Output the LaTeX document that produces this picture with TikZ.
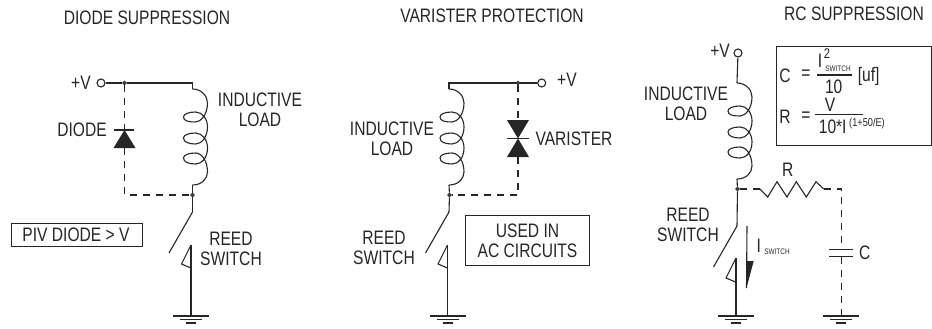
\documentclass[tikz,border=0pt]{standalone}
\usepackage{fontspec}
\setmainfont[FakeStretch=0.8]{Liberation Sans}
\usepackage{tikz}
\usepackage{tkz-euclide}
\usetikzlibrary{
    calc,
    arrows.meta
}
\tikzset{
    wire/.style={line width=1.1pt, black!85},
    dashwire/.style={wire, dash pattern=on 7pt off 6pt},
    lbl/.style={font=\fontsize{19.5}{20}\selectfont, align=center, inner sep=0pt, text=black!85},
    small/.style={font=\fontsize{8}{9}\selectfont, inner sep=0pt, text=black!85},
    mid/.style={font=\fontsize{11.5}{12}\selectfont, inner sep=0pt, text=black!85},
    termnode/.style={circle, draw=black!85, line width=1.1pt, fill=white, minimum size=8pt, inner sep=0pt},
    dotnode/.style={circle, draw=black!85, line width=0.8pt, fill=black!70, minimum size=3.8pt, inner sep=0pt},
    boxnode/.style={draw=black!85, line width=1.1pt, inner sep=0pt, anchor=north west},
    coilpart/.pic={
        \draw[wire] (0,0) .. controls (9,0) and (15,7) .. (15,14)
            .. controls (15,26) and (8,33) .. (3,33)
            .. controls (-4,33) and (-9,32) .. (-9,28)
            .. controls (-9,25) and (-4,23) .. (3,23)
            .. controls (10,23) and (15,30) .. (15,38)
            .. controls (15,48) and (9,55) .. (3,55)
            .. controls (-4,55) and (-9,53) .. (-9,49)
            .. controls (-9,46) and (-4,44) .. (3,44)
            .. controls (10,44) and (15,51) .. (15,59)
            .. controls (15,69) and (9,75) .. (3,75)
            .. controls (-4,75) and (-9,73) .. (-9,69)
            .. controls (-9,66) and (-4,64) .. (3,64)
            .. controls (10,64) and (15,73) .. (15,83)
            .. controls (15,90) and (9,96) .. (0,96);
    },
    gndpart/.pic={
        \draw[wire] (-18,0) -- (18,0);
        \draw[wire] (-11,3.6) -- (11,3.6);
        \draw[wire] (-5,7) -- (5,7);
    },
    switchpart/.pic={
        \draw[wire] (0,0) -- (-23.5,41);
        \draw[wire] (-1.5,33) -- (-11,52) -- (-1.5,56);
    }
}
\begin{document}
\begin{tikzpicture}[x=1pt,y=-1pt]
    \useasboundingbox (0,0) rectangle (932,329);
    % diode suppression
    \tkzDefPoints{192.5/83/CA,192.5/89/TA,192.5/185/BA,192.5/212/SA,191/245/KA,191/316/GA,124.5/130/DA,124.5/148/EA,124.5/195/FA}
    \node[lbl] (titleA) at (147,18) {DIODE SUPPRESSION};
    \node[lbl] (plusA) at (81,83) {+V};
    \node[termnode] (termA) at (101,83) {};
    \node[dotnode] (dotA) at (124.5,83) {};
    \node[dotnode] (juncA) at (192.5,195) {};
    \draw[wire] (termA) -- (dotA) -- (CA) -- (TA);
    \pic at (TA) {coilpart};
    \draw[wire] (BA) -- (juncA) -- (SA);
    \pic at (SA) {switchpart};
    \draw[wire] (KA) -- (GA);
    \pic at (GA) {gndpart};
    \draw[dashwire] (dotA) -- (DA);
    \draw[dashwire] (EA) -- (FA) -- (juncA);
    \draw[wire] (114,130) -- (134,130);
    \fill[black!85] (DA) -- (113.5,148) -- (135.5,148) -- cycle;
    \node[lbl] (loadA) at (260,110) {INDUCTIVE\\LOAD};
    \node[lbl] (diodeA) at (82,130) {DIODE};
    \node[lbl] (reedA) at (231,248.5) {REED\\SWITCH};
    \node[boxnode, minimum width=131pt, minimum height=23pt] (pivA) at (10.5,222.5) {};
    \node[lbl] (pivtext) at (76,235) {PIV DIODE > V};
    % varister protection
    \tkzDefPoints{449/83/CB,449/89/TB,449/185/BB,449/212/SB,447.5/245/KB,447.5/316/GB,518/120/DB,518/157/EB,518/195/FB}
    \node[lbl] (titleB) at (492,16) {VARISTER PROTECTION};
    \node[lbl] (plusB) at (567,80) {+V};
    \node[termnode] (termB) at (541.7,83) {};
    \node[dotnode] (dotB) at (518,83) {};
    \node[dotnode] (juncB) at (449.5,195) {};
    \draw[wire] (termB) -- (dotB) -- (CB) -- (TB);
    \pic at (TB) {coilpart};
    \draw[wire] (BB) -- (juncB) -- (SB);
    \pic at (SB) {switchpart};
    \draw[wire] (KB) -- (GB);
    \pic at (GB) {gndpart};
    \draw[dashwire] (dotB) -- (DB);
    \draw[dashwire] (EB) -- (FB) -- (juncB);
    \draw[wire] (507,138.5) -- (529,138.5);
    \fill[black!85] (507,120) -- (529,120) -- (518,138.5) -- cycle;
    \fill[black!85] (507,157) -- (518,138.5) -- (529,157) -- cycle;
    \node[lbl] (loadB) at (392,139) {INDUCTIVE\\LOAD};
    \node[lbl] (variB) at (574,139) {VARISTER};
    \node[lbl] (reedB) at (384,247.5) {REED\\SWITCH};
    \node[boxnode, lbl, minimum width=124pt, minimum height=50pt] (usedB) at (465,215) {USED IN\\AC CIRCUITS};
    % rc suppression
    \tkzDefPoints{737/83/TC,737/179/BC,737/226/SC,736/258/KC,736/316/GC,760/189/RA,823.7/189/RB,841.3/189/RC,841.3/249.3/PA,841.3/256.7/PB,841.3/316/GD,747/226/AA,746.5/288/AB}
    \node[lbl] (titleC) at (854,14) {RC SUPPRESSION};
    \node[lbl] (plusC) at (720,51) {+V};
    \node[termnode] (termC) at (738,53) {};
    \node[dotnode] (juncC) at (737.5,189) {};
    \draw[wire] (termC) -- (TC);
    \pic at (TC) {coilpart};
    \draw[wire] (BC) -- (juncC) -- (SC);
    \pic at (SC) {switchpart};
    \draw[wire] (KC) -- (GC);
    \pic at (GC) {gndpart};
    \pic at (GD) {gndpart};
    \draw[dashwire] (juncC) -- (RA);
    \draw[wire] (RA) -- (767.7,197) -- (777,181.7) -- (787,197) -- (796.3,181.7) -- (806.3,197) -- (816,181.7) -- (RB);
    \draw[dashwire] (RB) -- (RC) -- (PA);
    \draw[dashwire] (PB) -- (GD);
    \draw[wire] (829.3,249.3) -- (853,249.3);
    \draw[wire] (829.3,256.7) -- (853,256.7);
    \draw[wire] (AA) -- (AB);
    \fill[black!85] (746.5,261) -- (753.7,261) -- (AB) -- cycle;
    \node[lbl] (loadC) at (686,104) {INDUCTIVE\\LOAD};
    \node[lbl] (reedC) at (688,224.5) {REED\\SWITCH};
    \node[lbl] (resC) at (787.7,170) {R};
    \node[lbl] (capC) at (864.7,253) {C};
    \node[lbl] (iC) at (758.7,246) {I};
    \node[small] (swC) at (777,252) {SWITCH};
    % formula box
    \node[boxnode, minimum width=155pt, minimum height=99pt] (formula) at (776.3,46) {};
    \node[lbl] (fC) at (785,76) {C};
    \node[lbl] (fCeq) at (806,75) {=};
    \node[lbl] (fI) at (820,61) {I};
    \node[mid, font=\fontsize{14}{15}\selectfont] (fsq) at (827,54) {2};
    \node[small] (fsw) at (838,69) {SWITCH};
    \draw[wire] (817,75) -- (852,75);
    \node[lbl] (fTen) at (833.7,87) {10};
    \node[lbl] (fuf) at (868.7,76) {[uf]};
    \node[lbl] (fR) at (785,117) {R};
    \node[lbl] (fReq) at (806,117) {=};
    \node[lbl] (fV) at (830,105) {V};
    \draw[wire] (815,114.7) -- (862.7,114.7);
    \node[lbl] (fTenI) at (832.7,127) {10*I};
    \node[mid] (fexp) at (867,123.5) {(1+50/E)};
\end{tikzpicture}
\end{document}
